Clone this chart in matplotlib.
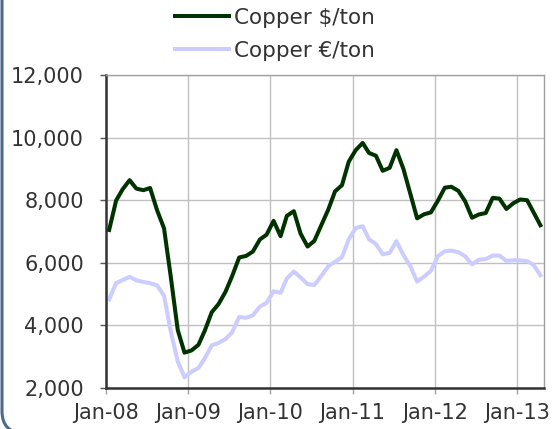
import numpy as np
import pandas as pd
import matplotlib
matplotlib.use("Agg")
import matplotlib.pyplot as plt
import matplotlib.dates as mdates
from matplotlib.patches import FancyBboxPatch
from matplotlib.ticker import FuncFormatter, MultipleLocator
from matplotlib.transforms import IdentityTransform

# Monthly average copper prices, Jan 2008 - Apr 2013
usd_per_ton = [
    7050, 7990, 8350, 8640, 8370, 8320, 8390, 7680, 7100, 5550, 3850, 3130,
    3200, 3380, 3830, 4420, 4680, 5070, 5580, 6170, 6220, 6360, 6745, 6900,
    7340, 6850, 7500, 7650, 6930, 6520, 6700, 7200, 7700, 8280, 8480, 9230,
    9600, 9830, 9510, 9420, 8940, 9035, 9598, 9000, 8200, 7420, 7550, 7610,
    7980, 8400, 8430, 8300, 7970, 7440, 7543, 7590, 8076, 8050, 7720, 7900,
    8023, 8000, 7620, 7200,
]
eur_per_ton = [
    4830, 5350, 5450, 5550, 5440, 5390, 5350, 5280, 4950, 3800, 2850, 2340,
    2520, 2640, 2950, 3360, 3440, 3560, 3780, 4270, 4243, 4320, 4600, 4722,
    5090, 5040, 5500, 5720, 5530, 5320, 5290, 5580, 5890, 6030, 6180, 6750,
    7110, 7170, 6750, 6600, 6270, 6320, 6690, 6250, 5890, 5400, 5560, 5740,
    6210, 6370, 6390, 6340, 6210, 5950, 6100, 6120, 6230, 6230, 6060, 6080,
    6080, 6050, 5940, 5600,
]
months = pd.date_range("2008-01-01", periods=len(usd_per_ton), freq="MS") + pd.Timedelta(days=14)

series_labels = ["Copper $/ton", "Copper \u20ac/ton"]

text_color = "#333333"
grid_color = "#c0c0c0"

fig = plt.figure(figsize=(5.58, 4.29), dpi=100)
ax = fig.add_axes([106 / 558, 1 - 388 / 429, 438 / 558, 313 / 429])

ax.plot(months, usd_per_ton, color="#003300", lw=2.9, label=series_labels[0],
        solid_joinstyle="round", zorder=3)
ax.plot(months, eur_per_ton, color="#ccccff", lw=2.9, label=series_labels[1],
        solid_joinstyle="round", zorder=2)

ax.set_xlim(pd.Timestamp("2008-01-01"), pd.Timestamp("2013-05-01"))
ax.set_ylim(2000, 12000)
ax.yaxis.set_major_locator(MultipleLocator(2000))
ax.yaxis.set_major_formatter(FuncFormatter(lambda v, p: f"{v:,.0f}"))
ax.xaxis.set_major_locator(mdates.YearLocator())
ax.xaxis.set_major_formatter(mdates.DateFormatter("%b-%y"))

ax.grid(True, color=grid_color, lw=1.0)
ax.set_axisbelow(True)
for side in ("top", "right"):
    ax.spines[side].set_color("#a0a0a0")
    ax.spines[side].set_linewidth(1.0)
for side in ("left", "bottom"):
    ax.spines[side].set_color("#333333")
    ax.spines[side].set_linewidth(1.8)

ax.tick_params(axis="y", length=4, width=1, color="#555555", labelsize=15,
               labelcolor=text_color, pad=12)
ax.tick_params(axis="x", length=4, width=1, color="#a0a0a0", labelsize=15,
               labelcolor=text_color, pad=7)

leg = fig.legend(loc="upper left", bbox_to_anchor=(175 / 558, 1 - 8 / 429),
                 frameon=False, fontsize=15.5, handlelength=2.5,
                 handletextpad=0.25, labelspacing=0.6, borderpad=0,
                 borderaxespad=0)
for t in leg.get_texts():
    t.set_color(text_color)

# rounded panel border, mostly running off the canvas
border = FancyBboxPatch((2, -4), 600, 470, boxstyle="round,pad=0,rounding_size=22",
                        transform=IdentityTransform(), fill=False,
                        edgecolor="#4d6a8c", lw=2.2)
fig.patches.append(border)

fig.savefig("out.png", dpi=100)
